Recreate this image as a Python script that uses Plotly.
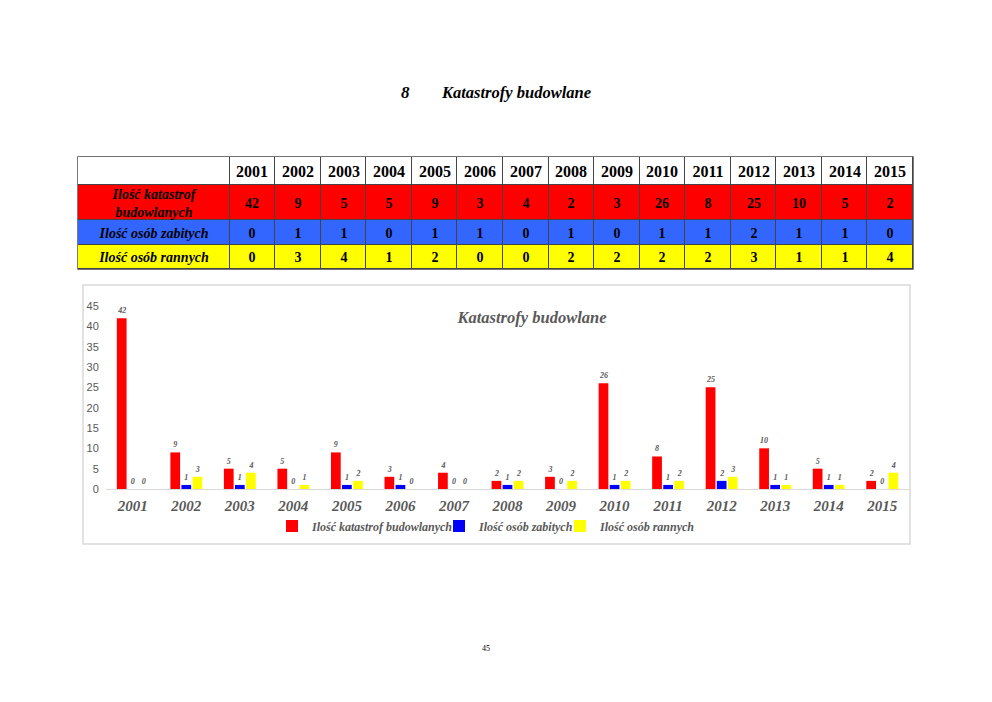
import plotly.graph_objects as go
import numpy as np

years = ["2001", "2002", "2003", "2004", "2005", "2006", "2007", "2008",
         "2009", "2010", "2011", "2012", "2013", "2014", "2015"]
katastrofy = [42, 9, 5, 5, 9, 3, 4, 2, 3, 26, 8, 25, 10, 5, 2]
zabici = [0, 1, 1, 0, 1, 1, 0, 1, 0, 1, 1, 2, 1, 1, 0]
ranni = [0, 3, 4, 1, 2, 0, 0, 2, 2, 2, 2, 3, 1, 1, 4]
series_names = ["Ilość katastrof budowlanych", "Ilość osób zabitych", "Ilość osób rannych"]
table_labels = ["Ilość katastrof<br>budowlanych", "Ilość osób zabitych", "Ilość osób rannych"]

RED, BLUE, YELLOW = "#FF0000", "#0000FF", "#FFFF00"
TBL_BLUE = "#3366FF"
GRAY = "#595959"
SERIF = "Liberation Serif"

W, H = 992, 702
def px(x): return x / W
def py(y): return (H - y) / H

fig = go.Figure()

# ---- table drawn as heatmap bricks (own axes x2/y2, 1 unit = 1 px) ----
TBL_L, TBL_R, TBL_T, TBL_B = 77, 914, 157, 269
first_w = 152
col_w = [first_w] + [(TBL_R - TBL_L - first_w) / len(years)] * len(years)
row_h = [28, 35, 25, 24]  # header, red, blue, yellow
x_edges = np.concatenate([[0], np.cumsum(col_w)])
y_edges = np.concatenate([[0], np.cumsum(row_h)])

header_text = [[""] + [f"<b>{y}</b>" for y in years]]
body_text = []
for lab, vals in zip(table_labels, [katastrofy, zabici, ranni]):
    body_text.append([f"<b><i>{lab}</i></b>"] + [f"<b>{v}</b>" for v in vals])

fig.add_trace(go.Heatmap(
    x=x_edges, y=y_edges[:2], z=[[0] * len(col_w)],
    colorscale=[[0, "white"], [1, "white"]], showscale=False,
    text=header_text, texttemplate="%{text}", xgap=1, ygap=1,
    textfont=dict(family=SERIF, size=16, color="black"),
    hoverinfo="skip", xaxis="x2", yaxis="y2", showlegend=False,
))
fig.add_trace(go.Heatmap(
    x=x_edges, y=y_edges[1:], z=[[i] * len(col_w) for i in range(3)],
    zmin=0, zmax=2, colorscale=[[0, RED], [0.5, TBL_BLUE], [1, YELLOW]], showscale=False,
    text=body_text, texttemplate="%{text}", xgap=1, ygap=1,
    textfont=dict(family=SERIF, size=14, color="black"),
    hoverinfo="skip", xaxis="x2", yaxis="y2", showlegend=False,
))
fig.add_shape(type="rect", xref="x2", yref="y2", layer="below",
              x0=-0.7, x1=x_edges[-1] + 0.7, y0=-0.7, y1=y_edges[-1] + 0.7,
              fillcolor="#444444", line=dict(width=0))

# ---- bar chart ----
legend_ids = ["legend", "legend2", "legend3"]
for name, vals, col, lg in zip(series_names, [katastrofy, zabici, ranni],
                               [RED, BLUE, YELLOW], legend_ids):
    fig.add_trace(go.Bar(
        x=years, y=vals, name=f"<b><i>{name}</i></b>",
        marker=dict(color=col, line=dict(width=0)),
        text=vals, texttemplate="<b><i>%{text}</i></b>", textposition="outside",
        textfont=dict(family=SERIF, size=8, color=GRAY), cliponaxis=False,
        legend=lg, showlegend=True,
    ))

leg_common = dict(orientation="h", y=py(526), yanchor="middle", xanchor="left",
                  font=dict(family=SERIF, size=12, color=GRAY), itemwidth=30,
                  bgcolor="rgba(0,0,0,0)", borderwidth=0)

fig.update_layout(
    width=W, height=H, paper_bgcolor="white", plot_bgcolor="white",
    margin=dict(l=0, r=0, t=0, b=0, autoexpand=False),
    showlegend=True,
    barmode="group", bargap=0.38, bargroupgap=0.12,
    title=dict(text="<b><i>Katastrofy budowlane</i></b>", x=px(532), y=py(317),
               xref="paper", yref="paper", xanchor="center", yanchor="middle",
               font=dict(family=SERIF, size=16.5, color=GRAY)),
    xaxis=dict(domain=[px(106), px(909)], type="category",
               showline=True, linecolor="#d9d9d9", linewidth=1,
               ticks="outside", ticklen=3, tickcolor="rgba(0,0,0,0)",
               tickfont=dict(family=SERIF, size=15, color=GRAY),
               tickprefix="<b><i>", ticksuffix="</i></b>", showgrid=False,
               automargin=False, fixedrange=True),
    yaxis=dict(domain=[py(489), py(306)], range=[0, 45], dtick=5,
               showgrid=False, zeroline=False, showline=False,
               ticks="outside", ticklen=4, tickcolor="rgba(0,0,0,0)",
               tickfont=dict(family="Liberation Sans", size=11, color=GRAY),
               automargin=False, fixedrange=True),
    xaxis2=dict(domain=[px(TBL_L), px(TBL_R)], range=[x_edges[0] - 1, x_edges[-1] + 1],
                visible=False, anchor="y2", fixedrange=True),
    yaxis2=dict(domain=[py(TBL_B + 1), py(TBL_T - 1)], range=[y_edges[-1] + 1, y_edges[0] - 1],
                visible=False, anchor="x2", fixedrange=True),
    legend=dict(x=px(272), **leg_common),
    legend2=dict(x=px(439), **leg_common),
    legend3=dict(x=px(560), **leg_common),
)

# frame around chart
fig.add_shape(type="rect", xref="paper", yref="paper",
              x0=px(83), x1=px(910), y0=py(544), y1=py(285),
              line=dict(color="#d9d9d9", width=1.5), fillcolor="rgba(0,0,0,0)", layer="below")

# heading
fig.add_annotation(text="<b><i>8</i></b>", x=px(405), y=py(93), xref="paper", yref="paper",
                   xanchor="center", yanchor="middle", showarrow=False,
                   font=dict(family=SERIF, size=17, color="black"))
fig.add_annotation(text="<b><i>Katastrofy budowlane</i></b>", x=px(439), y=py(93),
                   xref="paper", yref="paper", xanchor="left", yanchor="middle", showarrow=False,
                   font=dict(family=SERIF, size=16.5, color="black"))
# page number
fig.add_annotation(text="45", x=px(486), y=py(648), xref="paper", yref="paper",
                   xanchor="center", yanchor="middle", showarrow=False,
                   font=dict(family=SERIF, size=8, color="black"))

fig.write_html("out.html", config={"displayModeBar": False},
               post_script="document.body.style.margin='0';")
